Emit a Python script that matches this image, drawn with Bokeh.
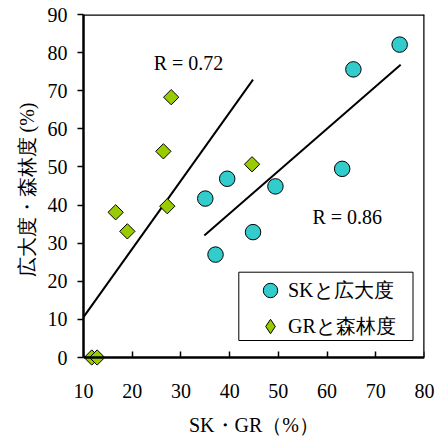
import math
from bokeh.plotting import figure
from bokeh.models import (Range1d, LinearAxis, FixedTicker, Label, Legend,
                          LegendItem, BoxAnnotation)
from bokeh.embed import file_html
from bokeh.resources import INLINE

# ---- data ----
sk_x = [35.0, 37.1, 39.5, 44.8, 49.4, 63.1, 65.4, 74.9]
sk_y = [41.7, 27.0, 46.9, 32.9, 44.9, 49.5, 75.6, 82.1]
gr_x = [11.7, 12.8, 16.6, 19.0, 26.4, 27.2, 28.0, 44.6]
gr_y = [0.0, 0.0, 38.1, 33.1, 54.1, 39.7, 68.3, 50.7]
gr_fit_x = [10.0, 44.8]
gr_fit_y = [10.6, 72.9]
sk_fit_x = [34.8, 75.1]
sk_fit_y = [32.0, 76.8]
x_ticks = [10, 20, 30, 40, 50, 60, 70, 80]
y_ticks = [0, 10, 20, 30, 40, 50, 60, 70, 80, 90]
r_labels = ["R = 0.72", "R = 0.86"]
legend_labels = ["SKと広大度", "GRと森林度"]
x_title = "SK・GR（%）"
y_title = "広大度・森林度 (%)"

SERIF = "Liberation Serif"
FS = "20px"

W, H = 438, 439
L, R, T = 83, 14, 14
FRAME_PX = 343   # px between y=0 and y=90
EXTRA = 8        # frame extends below y=0 so markers at 0 are not clipped
B = H - T - FRAME_PX - EXTRA
y_lo = -90.0 * EXTRA / FRAME_PX

p = figure(width=W, height=H, x_range=Range1d(10, 80), y_range=Range1d(y_lo, 90),
           output_backend="svg", toolbar_location=None,
           min_border_left=L, min_border_right=R, min_border_top=T, min_border_bottom=B)
p.grid.visible = False
p.outline_line_color = None
p.background_fill_color = "white"
p.border_fill_color = "white"

# bottom axis at the frame edge: only tick labels and title
xa = p.xaxis[0]
xa.ticker = FixedTicker(ticks=x_ticks)
xa.axis_line_color = None
xa.major_tick_in = 0
xa.major_tick_out = 0
xa.minor_tick_in = 0
xa.minor_tick_out = 0
xa.major_label_text_font = SERIF
xa.major_label_text_font_size = FS
xa.major_label_text_color = "black"
xa.major_label_standoff = 18
xa.axis_label = x_title
xa.axis_label_text_font = SERIF
xa.axis_label_text_font_size = FS
xa.axis_label_text_font_style = "normal"
xa.axis_label_text_color = "black"
xa.axis_label_standoff = 13

# axis line + inward ticks at y = 0 (no labels of its own)
x_line = LinearAxis(fixed_location=0, ticker=FixedTicker(ticks=x_ticks),
                    major_tick_in=6, major_tick_out=0, minor_tick_in=0, minor_tick_out=0,
                    axis_line_width=2.5, major_tick_line_width=1.5,
                    major_label_overrides={t: "" for t in x_ticks})
p.add_layout(x_line, "below")

ya = p.yaxis[0]
ya.bounds = (0, 90)
ya.ticker = FixedTicker(ticks=y_ticks)
ya.major_tick_in = 0
ya.major_tick_out = 6
ya.minor_tick_in = 0
ya.minor_tick_out = 0
ya.axis_line_width = 2.5
ya.major_tick_line_width = 1.5
ya.major_label_text_font = SERIF
ya.major_label_text_font_size = FS
ya.major_label_text_color = "black"
ya.major_label_standoff = 10
ya.axis_label = y_title
ya.axis_label_text_font = SERIF
ya.axis_label_text_font_size = FS
ya.axis_label_text_font_style = "normal"
ya.axis_label_text_color = "black"
ya.axis_label_standoff = 7

top_axis = LinearAxis(fixed_location=90, ticker=FixedTicker(ticks=[]),
                      major_tick_in=0, major_tick_out=0, minor_tick_in=0, minor_tick_out=0,
                      axis_line_width=2.5)
p.add_layout(top_axis, "above")
right_axis = LinearAxis(fixed_location=80, bounds=(0, 90), ticker=FixedTicker(ticks=[]),
                        major_tick_in=0, major_tick_out=0, minor_tick_in=0, minor_tick_out=0,
                        axis_line_width=2.5)
p.add_layout(right_axis, "right")

p.line(gr_fit_x, gr_fit_y, line_color="black", line_width=2)
p.line(sk_fit_x, sk_fit_y, line_color="black", line_width=2)

# legend swatch for the GR series: a diamond marker (legends ignore marker angle);
# drawn tiny underneath the real markers
dia_key = p.scatter(gr_x, gr_y, marker="diamond", size=1,
                    fill_color="#99CC00", line_color="black", line_width=1)
circ = p.scatter(sk_x, sk_y, marker="circle", size=15.5, fill_color="#33CCCC",
                 line_color="black", line_width=1)
dia = p.scatter(gr_x, gr_y, marker="square", angle=math.pi / 4, size=10.8,
                fill_color="#99CC00", line_color="black", line_width=1)

p.add_layout(Label(x=24.4, y=77.4, text=r_labels[0], text_font=SERIF,
                   text_font_size=FS, text_baseline="middle", text_color="black"))
p.add_layout(Label(x=57.0, y=36.8, text=r_labels[1], text_font=SERIF,
                   text_font_size=FS, text_baseline="middle", text_color="black"))

box = BoxAnnotation(left=238.3, right=412.5, top=271.7, bottom=340,
                    left_units="canvas", right_units="canvas",
                    top_units="canvas", bottom_units="canvas",
                    fill_color="white", fill_alpha=1.0,
                    line_color="black", line_width=1, line_alpha=1.0)
p.add_layout(box)

legend = Legend(items=[LegendItem(label=legend_labels[0], renderers=[circ]),
                       LegendItem(label=legend_labels[1], renderers=[dia_key])],
                location=(169, 20.7), padding=0, spacing=-5, margin=0,
                glyph_width=36, glyph_height=36, label_standoff=-7,
                border_line_alpha=0, background_fill_alpha=0,
                label_text_font=SERIF, label_text_font_size=FS,
                label_text_color="black")
p.add_layout(legend)

open("out.html", "w").write(file_html(p, INLINE))
